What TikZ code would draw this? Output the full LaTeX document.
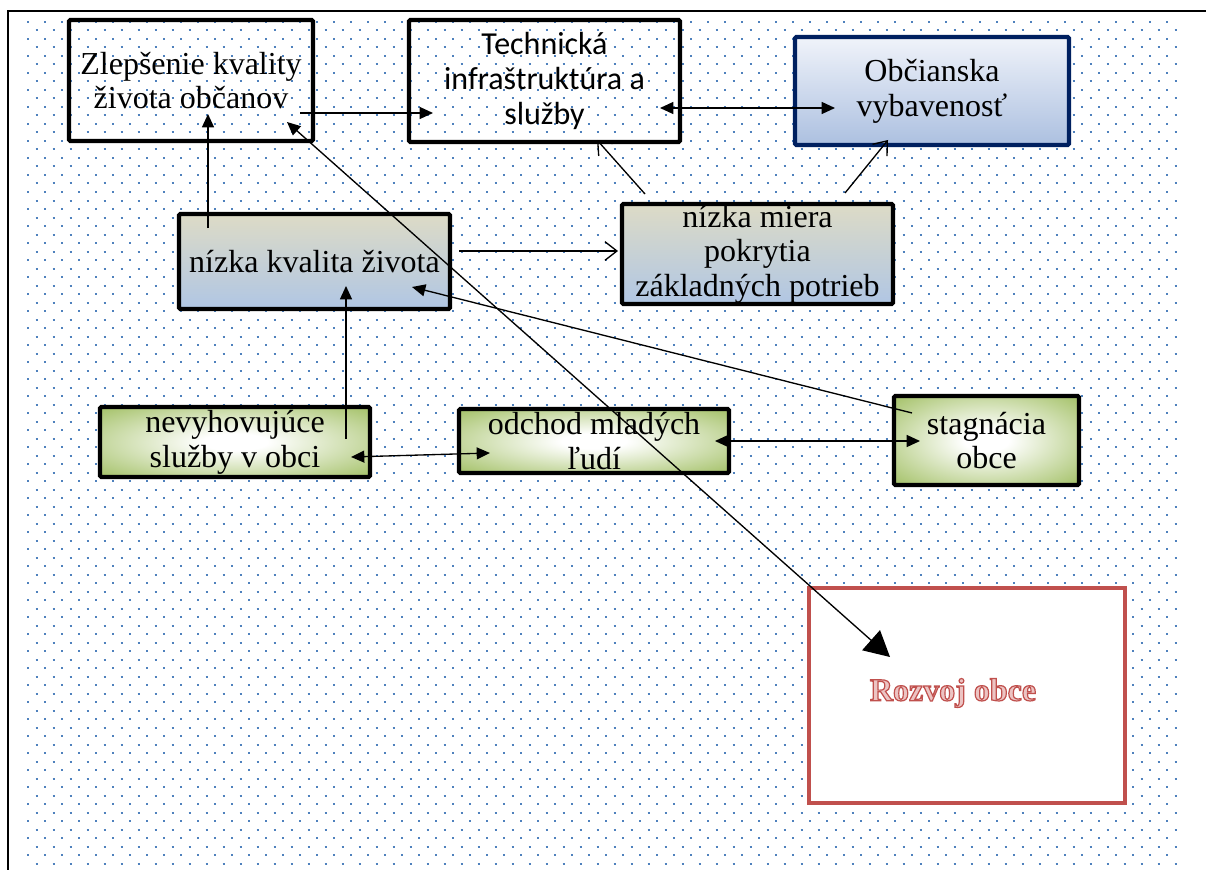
\documentclass[tikz,border=0pt]{standalone}
\usepackage{fontspec}
\setmainfont{Liberation Serif}
\newfontfamily\calibri{Carlito}
\usetikzlibrary{arrows.meta}
\definecolor{dotblue}{RGB}{79,129,189}
\definecolor{boxgreen}{RGB}{155,187,89}
\definecolor{beige}{RGB}{221,219,198}
\definecolor{lightblue}{RGB}{176,198,228}
\definecolor{paleblue}{RGB}{240,243,250}
\definecolor{midblue}{RGB}{172,192,224}
\definecolor{navy}{RGB}{0,32,96}
\definecolor{rozvojred}{RGB}{192,80,77}
\definecolor{rozvojpink}{RGB}{236,196,195}
\pgfdeclareradialshading{greenglow}{\pgfpoint{0bp}{0bp}}{color(0bp)=(white); color(6bp)=(white); color(38bp)=(boxgreen); color(50bp)=(boxgreen)}
\tikzset{
  dotrow/.style={draw=dotblue, line width=1.5pt, dash pattern=on 1.5pt off 11.25pt},
  txt/.style={font=\fontsize{24pt}{26pt}\selectfont, align=center, inner sep=0pt},
  blackbox/.style={txt, draw=black, line width=3.2pt, rounded corners=1pt},
  bluegrad/.style={blackbox, top color=beige, bottom color=lightblue},
  greenbox/.style={blackbox, shading=greenglow},
  navybox/.style={txt, draw=navy, line width=3.2pt, rounded corners=1pt, top color=paleblue, bottom color=midblue},
  redbox/.style={draw=rozvojred, line width=3pt, fill=white},
  conn/.style={line width=1pt, draw=black},
  tipf/.tip={Triangle[length=10pt,width=9pt]},
  tipo/.tip={Straight Barb[length=9pt,width=14pt]},
  tipbig/.tip={Triangle[length=19pt,width=20pt]},
}
\begin{document}
\begin{tikzpicture}[x=0.75pt,y=-0.75pt]
\useasboundingbox (0,0) rectangle (1206,870);
% dotted background
\foreach \k in {0,...,49}{
  \draw[dotrow] (27,{22+17*\k}) -- (1177,{22+17*\k});
  \draw[dotrow] (35.5,{30.5+17*\k}) -- (1177,{30.5+17*\k});
}
% frame
\draw[line width=1.5pt] (8,870) -- (8,11) -- (1206,11);
% boxes
\node[blackbox, minimum width={244*0.75pt}, minimum height={121*0.75pt}] (zlep) at (191,80.5) {Zlepšenie kvality\\života občanov};
\node[blackbox, minimum width={271*0.75pt}, minimum height={122*0.75pt}, font=\calibri\fontsize{24pt}{26.5pt}\selectfont] (tech) at (544.5,81) {Technická\\infraštruktúra a\\služby};
\node[navybox, minimum width={274*0.75pt}, minimum height={108*0.75pt}] (obc) at (932,91) {Občianska\\vybavenosť};
\node[bluegrad, minimum width={271*0.75pt}, minimum height={95*0.75pt}] (nkz) at (314.5,261.5) {nízka kvalita života};
\node[bluegrad, minimum width={271*0.75pt}, minimum height={100*0.75pt}] (nmp) at (757.5,254) {nízka miera\\pokrytia\\základných potrieb};
\node[greenbox, minimum width={270*0.75pt}, minimum height={70*0.75pt}] (nev) at (235,442) {nevyhovujúce\\služby v obci};
\node[greenbox, minimum width={270*0.75pt}, minimum height={64*0.75pt}] (odch) at (594,441) {odchod mladých\\ľudí};
\node[greenbox, minimum width={185*0.75pt}, minimum height={89*0.75pt}] (stag) at (986.5,440.5) {stagnácia\\obce};
\node[redbox, minimum width={316*0.75pt}, minimum height={215*0.75pt}] (rozv) at (967,695.5) {};
\node[txt, font=\bfseries\fontsize{24pt}{26pt}\selectfont, text=rozvojpink] (rozvt) at (953,693) {\special{pdf:code 2 Tr 0.9 w 0.753 0.314 0.302 RG}Rozvoj obce\special{pdf:code 0 Tr}};
% connector end points
\coordinate (a1s) at (300,113); \coordinate (a1e) at (433,113);
\coordinate (a2s) at (660,108); \coordinate (a2e) at (835,108);
\coordinate (a3s) at (208,228); \coordinate (a3e) at (208,114);
\coordinate (a4s) at (645,194); \coordinate (a4e) at (597,140);
\coordinate (a5s) at (845,193); \coordinate (a5e) at (888,140);
\coordinate (a6s) at (459,251); \coordinate (a6e) at (618,251);
\coordinate (a7s) at (287,122); \coordinate (a7e) at (890,657);
\coordinate (a8s) at (912,413); \coordinate (a8e) at (412,287);
\coordinate (a9s) at (346,439); \coordinate (a9e) at (346,286);
\coordinate (a10s) at (351,457); \coordinate (a10e) at (490,453);
\coordinate (a11s) at (715,441); \coordinate (a11e) at (920,441);
% connectors
\draw[conn, -tipf] (a1s) -- (a1e);
\draw[conn, tipf-tipf] (a2s) -- (a2e);
\draw[conn, -tipf] (a3s) -- (a3e);
\draw[conn, -tipo] (a4s) -- (a4e);
\draw[conn, -tipo] (a5s) -- (a5e);
\draw[conn, -tipo] (a6s) -- (a6e);
\draw[conn, tipf-tipbig] (a7s) -- (a7e);
\draw[conn, -tipf] (a8s) -- (a8e);
\draw[conn, -tipf] (a9s) -- (a9e);
\draw[conn, tipf-tipf] (a10s) -- (a10e);
\draw[conn, tipf-tipf] (a11s) -- (a11e);
\end{tikzpicture}
\end{document}
